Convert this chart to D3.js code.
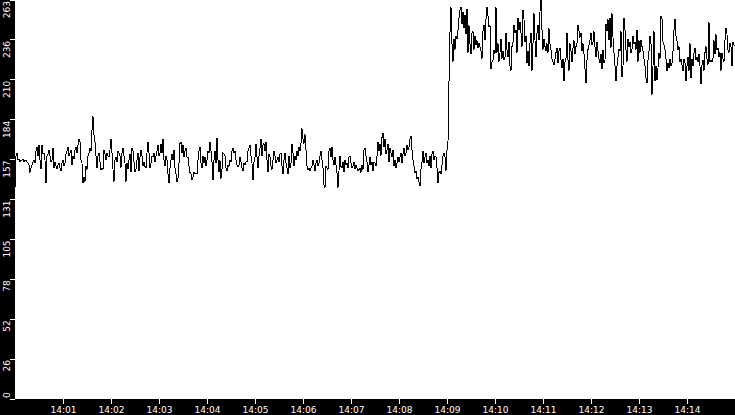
<!DOCTYPE html>
<html>
<head>
<meta charset="utf-8">
<script src="https://cdn.jsdelivr.net/npm/d3@7"></script>
<style>
  html, body { margin: 0; padding: 0; background: #000; overflow: hidden; }
  svg { display: block; }
</style>
</head>
<body>
<div id="chart"></div>
<script>
// chart size
const width = 735;
const height = 415;
const margin = { top: 0, right: 0, bottom: 16, left: 15 };

// one reading every 1.25 seconds from 14:00:00 to 14:15:00
const startTime = new Date(2000, 0, 1, 14, 0, 0);
const endTime = new Date(2000, 0, 1, 14, 15, 0);
const stepMs = 1250;

// readings before the step up (14:00:00 - 14:09:02)
const valuesBefore = [
  139,160,162,157,158,156,157,157,158,156, 157,157,156,155,154,149,152,154,156,157,
  155,163,166,160,167,157,151,167,161,162, 157,142,160,161,164,160,156,157,165,152,
  156,153,151,154,155,152,150,155,157,153, 155,161,163,166,160,162,164,154,160,158,
  164,166,162,167,171,169,157,155,142,146, 143,153,151,160,162,165,163,177,186,174,
  169,160,152,160,162,156,151,152,151,
  164,
  161,157,162,160,159,164,171,162,151,143, 157,159,156,163,162,160,152,162,165,160,
  155,143,155,151,157,161,149,165,163,156, 149,151,157,162,150,159,164,160,153,156,
  153,152,162,169,162,152,155,160,159,162, 156,160,163,167,160,162,168,162,171,157,
  153,160,157,148,142,152,157,161,157,164, 152,148,143,145,155,168,169,162,167,159,
  163,165,159,159,153,149,148,144,146,
  149,
  148,148,148,157,163,166,155,152,160,155, 159,153,157,163,162,169,163,156,144,157,
  163,155,172,157,149,157,145,151,162,161, 160,152,150,154,153,157,156,163,165,162,
  163,157,154,153,154,159,156,152,150,155, 154,156,156,163,165,167,160,155,144,156,
  159,168,159,152,160,165,171,160,167,168, 163,169,157,149,161,159,153,151,157,163,
  160,155,157,159,156,161,162,153,148,
  157,
  162,155,152,148,160,152,155,168,162,153, 160,157,163,160,166,163,168,178,171,168,
  174,164,153,151,152,150,152,153,157,154, 150,155,157,153,155,160,163,157,152,141,
  139,153,152,151,163,165,159,166,157,154, 159,154,149,139,150,160,153,152,156,149,
  157,154,155,152,159,160,155,152,153,156, 151,154,152,150,151,152,149,154,151,164,
  165,160,156,149,154,159,154,156,150,
  156,
  155,153,160,169,163,168,160,172,175,166, 171,161,164,168,156,165,162,159,164,153,
  157,152,155,159,156,159,162,155,161,165, 160,162,167,164,166,171,173,164,157,153,
  149,150,145,146,143,140,151,156,163,155, 159,162,155,157,153,160,152,161,163,157,
  160,159,152,142,149,150,148,154,160,162, 159,150,164,169
];

// readings from the step up to the end (14:09:02.5 - 14:15:00)
const valuesAfter = [
  209,241,258,234,222,237,230,239,237,243, 251,256,258,247,255,244,253,240,257,228,
  246,234,227,241,242,230,239,233,236,231, 234,232,229,224,242,246,236,250,258,252,
  245,246,217,222,223,230,227,258,228,234, 222,228,237,224,229,223,225,241,230,225,
  235,219,216,232,235,246,241,243,228,251, 243,248,241,232,256,250,235,239,221,229,
  219,234,241,216,234,
  254,236,225,241,246,236,255,263,243,230, 237,232,229,234,228,244,234,230,224,222,
  220,224,228,231,221,229,231,223,218,224, 209,222,224,241,223,216,234,229,222,231,
  236,227,232,234,246,242,238,241,229,234, 227,217,208,223,230,233,236,241,233,235,
  242,232,225,235,229,224,221,227,217,230, 221,223,247,242,250,236,251,231,254,238,
  228,219,209,219,225,230,229,242,212,219,
  251,243,230,222,237,232,235,228,230,239, 234,235,230,243,222,236,228,236,232,229,
  224,219,211,208,223,229,239,234,200,219, 242,209,219,210,218,228,224,252,250,235,
  233,230,224,216,221,218,224,219,221,229, 243,250,239,236,230,232,222,224,220,216,
  224,221,209,219,225,216,234,211,224,219, 228,231,223,225,222,227,219,207,220,223,
  216,228,232,224,220,248,222,223,222,224, 236,227,240,230,231,225,228,216,228,224,
  222,236,244,240,230,228,234,232,219,235, 233,233
];

// axis labels
const yMax = 263;
const yTickLabels = ['0', '26', '52', '78', '105', '131', '157', '184', '210', '236', '263'];
const xTickLabels = ['14:01', '14:02', '14:03', '14:04', '14:05', '14:06', '14:07',
  '14:08', '14:09', '14:10', '14:11', '14:12', '14:13', '14:14'];

const values = valuesBefore.concat(valuesAfter);
const data = values.map((v, i) => ({ t: new Date(startTime.getTime() + i * stepMs), v }));

const toTime = s => {
  const [h, m] = s.split(':');
  return new Date(2000, 0, 1, +h, +m, 0);
};

const plotW = width - margin.left - margin.right;
const plotH = height - margin.top - margin.bottom;

const svg = d3.select('#chart')
  .append('svg')
  .attr('width', width)
  .attr('height', height);

svg.append('rect')
  .attr('width', width)
  .attr('height', height)
  .attr('fill', '#000');

const x = d3.scaleTime()
  .domain([startTime, endTime])
  .range([margin.left, margin.left + plotW]);

const y = d3.scaleLinear()
  .domain([0, yMax])
  .range([plotH - 0.5, -0.5]);

// white plot area
svg.append('rect')
  .attr('x', margin.left)
  .attr('y', margin.top)
  .attr('width', plotW)
  .attr('height', plotH)
  .attr('fill', '#fff');

svg.append('clipPath')
  .attr('id', 'plot-clip')
  .append('rect')
  .attr('x', margin.left)
  .attr('y', margin.top)
  .attr('width', plotW)
  .attr('height', plotH);

// the series
const line = d3.line()
  .x(d => x(d.t))
  .y(d => y(d.v));

svg.append('path')
  .datum(data)
  .attr('clip-path', 'url(#plot-clip)')
  .attr('fill', 'none')
  .attr('stroke', '#000')
  .attr('stroke-width', 1)
  .attr('shape-rendering', 'crispEdges')
  .attr('d', line);

// y axis, labels turned on their side
const yAxis = d3.axisLeft(y)
  .tickValues(yTickLabels.map((_, i) => yMax * i / 10))
  .tickFormat((d, i) => yTickLabels[i])
  .tickSize(5)
  .tickSizeOuter(0);

const gy = svg.append('g')
  .attr('transform', `translate(${margin.left},0)`)
  .call(yAxis);

gy.select('.domain').remove();
gy.selectAll('line').attr('stroke', '#fff').attr('shape-rendering', 'crispEdges');
gy.selectAll('text')
  .attr('fill', '#fff')
  .attr('font-family', 'DejaVu Sans, sans-serif')
  .attr('font-size', 9)
  .attr('transform', 'rotate(-90)')
  .attr('x', (d, i) => i === 0 ? 1 : -1)
  .attr('y', -5.5)
  .attr('dy', 0)
  .attr('text-anchor', (d, i) => i === 0 ? 'start' : 'end');

// x axis
const xAxis = d3.axisBottom(x)
  .tickValues(xTickLabels.map(toTime))
  .tickFormat((d, i) => xTickLabels[i])
  .tickSize(5)
  .tickSizeOuter(0);

const gx = svg.append('g')
  .attr('transform', `translate(0,${plotH})`)
  .call(xAxis);

gx.select('.domain').remove();
gx.selectAll('line').attr('stroke', '#fff').attr('shape-rendering', 'crispEdges');
gx.selectAll('text')
  .attr('fill', '#fff')
  .attr('font-family', 'DejaVu Sans, sans-serif')
  .attr('font-size', 9);
</script>
</body>
</html>
